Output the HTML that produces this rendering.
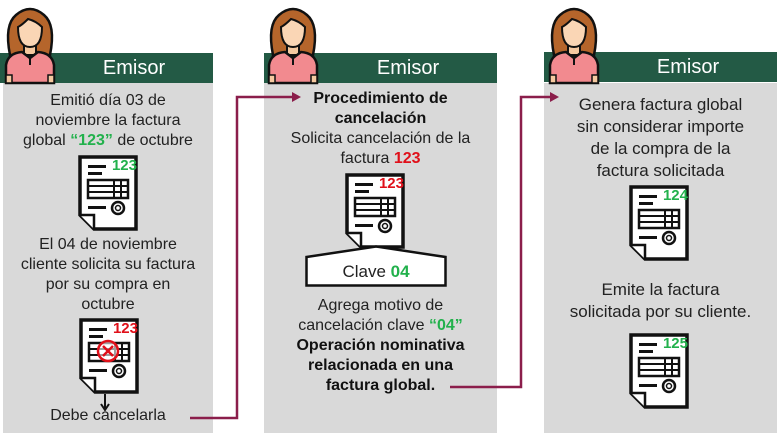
<!DOCTYPE html>
<html><head><meta charset="utf-8"><style>
body{margin:0;width:781px;height:438px;background:#fff;position:relative;overflow:hidden;font-family:"Liberation Sans",sans-serif;}
.p{position:absolute;background:#d9d9d9;}
.h{position:absolute;background:#235a45;color:#fff;font-size:20px;text-align:center;height:30px;line-height:31px;}
.t{position:absolute;text-align:center;font-size:16px;line-height:20px;color:#222;}
.g{color:#22b14c;font-weight:bold}
.r{color:#e0101a;font-weight:bold}
.b{font-weight:bold;color:#111}
svg{position:absolute;overflow:visible}
</style></head><body>
<svg width="0" height="0" style="position:absolute"><defs>
<g id="av">
<path d="M8 50 Q2 20 14 10 Q28 -2 42 10 Q54 20 48 50 Z" fill="#b5652b" stroke="#111" stroke-width="2.5"/>
<rect x="22" y="38" width="12" height="12" fill="#f5c9a0" stroke="#111" stroke-width="2"/>
<path d="M16 22 Q16 42 28 42 Q40 42 40 22 Q34 16 26 14 Q20 20 16 22Z" fill="#fad6b5" stroke="#111" stroke-width="2"/>
<path d="M4 78 L4 60 Q6 48 20 47 L28 53 L36 47 Q50 48 52 60 L52 78 Z" fill="#f28a8f" stroke="#111" stroke-width="2.5"/>
<path d="M28 53 L28 60" stroke="#111" stroke-width="2"/>
<rect x="4" y="70" width="6" height="8" fill="#f5c9a0" stroke="#111" stroke-width="1.5"/>
<rect x="46" y="70" width="6" height="8" fill="#f5c9a0" stroke="#111" stroke-width="1.5"/>
</g>
<g id="doc">
<path d="M2 2 L58 2 L58 74 L16 74 L2 60 Z" fill="#fff" stroke="#111" stroke-width="3.5"/>
<path d="M2 60 L16 60 L16 74" fill="#fff" stroke="#111" stroke-width="2.5"/>
<rect x="10" y="10" width="18" height="3" fill="#111"/><rect x="10" y="17" width="14" height="3" fill="#111"/>
<rect x="10" y="25" width="40" height="18" fill="none" stroke="#111" stroke-width="2.5"/>
<path d="M10 31 H50 M10 37 H50 M36 25 V43 M43 25 V43" stroke="#111" stroke-width="2"/>
<rect x="10" y="51" width="18" height="3" fill="#111"/>
<circle cx="40" cy="53" r="6" fill="none" stroke="#111" stroke-width="2.5"/><circle cx="40" cy="53" r="2.5" fill="none" stroke="#111" stroke-width="1.5"/>
</g>
</defs></svg>

<div class="p" style="left:3px;top:83px;width:210px;height:350px"></div>
<div class="h" style="left:0;top:53px;width:213px;padding-left:55px;box-sizing:border-box">Emisor</div>
<svg style="left:2px;top:5px" width="56" height="78"><use href="#av"/></svg>

<div class="p" style="left:264px;top:83px;width:233px;height:350px"></div>
<div class="h" style="left:264px;top:53px;width:233px;padding-left:55px;box-sizing:border-box">Emisor</div>
<svg style="left:265px;top:5px" width="56" height="78"><use href="#av"/></svg>

<div class="p" style="left:544px;top:83px;width:233px;height:350px"></div>
<div class="h" style="left:544px;top:52px;width:233px;padding-left:55px;box-sizing:border-box">Emisor</div>
<svg style="left:546px;top:5px" width="56" height="78"><use href="#av"/></svg>

<div class="t" style="left:3px;top:91px;width:210px">Emitió día 03 de<br>noviembre la factura<br>global <span class="g">“123”</span> de octubre</div>
<svg style="left:78px;top:155px" width="62" height="78"><use href="#doc"/><text x="59" y="15" text-anchor="end" font-size="15" font-weight="bold" fill="#22b14c" font-family="Liberation Sans">123</text></svg>
<div class="t" style="left:3px;top:235px;width:210px">El 04 de noviembre<br>cliente solicita su factura<br>por su compra en<br>octubre</div>
<svg style="left:79px;top:318px" width="62" height="78"><use href="#doc"/><text x="59" y="15" text-anchor="end" font-size="15" font-weight="bold" fill="#e0101a" font-family="Liberation Sans">123</text>
<circle cx="29" cy="33" r="10" fill="#fff" fill-opacity=".6" stroke="#e0101a" stroke-width="2.5"/><path d="M24 28 L34 38 M34 28 L24 38" stroke="#e0101a" stroke-width="2.5"/></svg>
<svg style="left:100px;top:394px" width="10" height="18"><path d="M5 0 V14" stroke="#111" stroke-width="2"/><path d="M1 10 L5 16 L9 10" fill="none" stroke="#111" stroke-width="2"/></svg>
<div class="t" style="left:3px;top:406px;width:210px">Debe cancelarla</div>

<div class="t b" style="left:264px;top:89px;width:233px">Procedimiento de<br>cancelación</div>
<div class="t" style="left:264px;top:129px;width:233px">Solicita cancelación de la<br>factura <span class="r">123</span></div>
<svg style="left:345px;top:173px" width="62" height="78"><use href="#doc"/><text x="59" y="15" text-anchor="end" font-size="15" font-weight="bold" fill="#e0101a" font-family="Liberation Sans">123</text></svg>
<svg style="left:305px;top:245px" width="142" height="42"><path d="M1.5 12 L71 1.5 L140.5 12 L140.5 40.5 L1.5 40.5 Z" fill="#fff" stroke="#111" stroke-width="2.5"/><text x="71" y="32" text-anchor="middle" font-size="17" fill="#222" font-family="Liberation Sans">Clave <tspan font-weight="bold" fill="#22b14c">04</tspan></text></svg>
<div class="t" style="left:264px;top:296px;width:233px">Agrega motivo de<br>cancelación clave <span class="g">“04”</span><br><span class="b">Operación nominativa<br>relacionada en una<br>factura global.</span></div>

<div class="t" style="left:544px;top:94px;width:233px;font-size:17px;line-height:22px">Genera factura global<br>sin considerar importe<br>de la compra de la<br>factura solicitada</div>
<svg style="left:629px;top:185px" width="62" height="78"><use href="#doc"/><text x="59" y="15" text-anchor="end" font-size="15" font-weight="bold" fill="#22b14c" font-family="Liberation Sans">124</text></svg>
<div class="t" style="left:544px;top:279px;width:233px;font-size:17px;line-height:22px">Emite la factura<br>solicitada por su cliente.</div>
<svg style="left:629px;top:333px" width="62" height="78"><use href="#doc"/><text x="59" y="15" text-anchor="end" font-size="15" font-weight="bold" fill="#22b14c" font-family="Liberation Sans">125</text></svg>

<svg style="left:0;top:0" width="781" height="438">
<path d="M190 418 H237 V97 H292" fill="none" stroke="#8b1e4b" stroke-width="2.5"/>
<path d="M292 92 L301 97 L292 102 Z" fill="#8b1e4b"/>
<path d="M450 387 H521 V97 H550" fill="none" stroke="#8b1e4b" stroke-width="2.5"/>
<path d="M550 92 L559 97 L550 102 Z" fill="#8b1e4b"/>
</svg>
</body></html>
